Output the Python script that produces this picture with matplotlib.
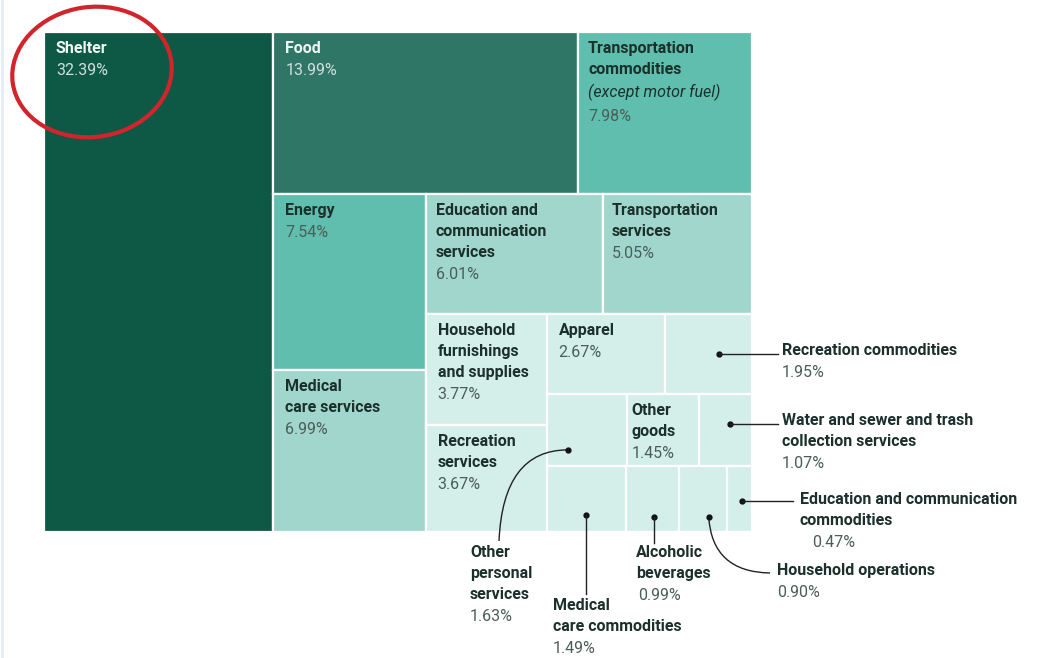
"""Treemap of CPI weights (slice-and-dice layout) with callouts."""

import matplotlib
matplotlib.use("Agg")
import matplotlib.pyplot as plt
from matplotlib.patches import Rectangle, Ellipse
from matplotlib.path import Path
from matplotlib.patches import PathPatch

plt.rcParams['font.family'] = ['Roboto', 'DejaVu Sans']

#
# Data.
#
names = [
    'Shelter', 'Food', 'Transportation\ncommodities', 'Energy',
    'Medical\ncare services', 'Education and\ncommunication\nservices',
    'Transportation\nservices', 'Household\nfurnishings\nand supplies',
    'Recreation\nservices', 'Apparel', 'Recreation commodities',
    'Other\npersonal\nservices', 'Other\ngoods',
    'Water and sewer and trash\ncollection services',
    'Medical\ncare commodities', 'Alcoholic\nbeverages',
    'Household operations', 'Education and communication\ncommodities',
]
weights = [32.39, 13.99, 7.98, 7.54, 6.99, 6.01, 5.05, 3.77, 3.67, 2.67,
           1.95, 1.63, 1.45, 1.07, 1.49, 0.99, 0.90, 0.47]
notes = {2: '(except motor fuel)'}

# strips of the slice-and-dice layout: item count and direction
strip_sizes = [1, 2, 2, 2, 2, 2, 3, 4]
strip_dirs = ['col', 'row', 'col', 'row', 'col', 'row', 'row', 'row']

cell_colors = ['#0e5846', '#2f7667', '#5fbead', '#5fbead', '#a1d6cc',
               '#a1d6cc', '#a1d6cc'] + ['#d4eee9'] * 11


def layout(values, sizes, dirs, box):
    x, y, w, h = box
    remaining = sum(values)
    rects = []
    k = 0
    for n, d in zip(sizes, dirs):
        grp = values[k:k + n]
        s = sum(grp)
        if d == 'col':
            sw = w * s / remaining
            yy = y
            for v in grp:
                hh = h * v / s
                rects.append((x, yy, sw, hh))
                yy += hh
            x += sw
            w -= sw
        else:
            sh = h * s / remaining
            xx = x
            for v in grp:
                ww = w * v / s
                rects.append((xx, y, ww, sh))
                xx += ww
            y += sh
            h -= sh
        remaining -= s
        k += n
    return rects


fig = plt.figure(figsize=(10.59, 6.58), dpi=100)
ax = fig.add_axes([0, 0, 1, 1])
ax.set_xlim(0, 1059)
ax.set_ylim(658, 0)
ax.axis('off')

rects = layout(weights, strip_sizes, strip_dirs, (44, 32, 708, 500))

for r, c in zip(rects, cell_colors):
    ax.add_patch(Rectangle((r[0], r[1]), r[2], r[3], facecolor=c,
                           edgecolor='white', linewidth=1.6))

fs = 11.5
line = 21
inside = [0, 1, 2, 3, 4, 5, 6, 7, 8, 9, 12]
pad = {12: 4, 2: 10, 5: 10, 6: 9}


def label(x, y, i, name_col, pct_col, pct_dx=0):
    yy = y
    for part in names[i].split('\n'):
        ax.text(x, yy, part, ha='left', va='top', fontsize=fs,
                fontweight='bold', color=name_col)
        yy += line
    yy += 1
    if i in notes:
        ax.text(x, yy, notes[i], ha='left', va='top', fontsize=fs,
                style='italic', color=name_col)
        yy += line + 4
    ax.text(x + pct_dx, yy, '{:.2f}%'.format(weights[i]), ha='left',
            va='top', fontsize=fs, color=pct_col)


for i in inside:
    x, y, w, h = rects[i]
    if i < 2:
        label(x + pad.get(i, 12), y + 9, i, '#eef5f3', '#cfe0db')
    else:
        label(x + pad.get(i, 12), y + 9, i, '#1c302b', '#4b5d58')


def dot(i, fx, fy):
    x, y, w, h = rects[i]
    px, py = x + w * fx, y + h * fy
    ax.plot(px, py, 'o', color='#111111', markersize=3.5)
    return px, py


def curve(p0, c, p1):
    path = Path([p0, c, p1], [Path.MOVETO, Path.CURVE3, Path.CURVE3])
    ax.add_patch(PathPatch(path, facecolor='none', edgecolor='#222222',
                           linewidth=1))


# Recreation commodities
px, py = dot(10, 0.62, 0.5)
ax.plot([px, 778], [py, py], color='#222222', lw=1)
label(782, py - 11, 10, '#1c302b', '#4b5d58')

# Water and sewer
px, py = dot(13, 0.58, 0.42)
ax.plot([px, 778], [py, py], color='#222222', lw=1)
label(782, py - 11, 13, '#1c302b', '#4b5d58')

# Education and communication commodities
px, py = dot(17, 0.6, 0.53)
ax.plot([px, 793], [py, py], color='#222222', lw=1)
label(800, py - 9, 17, '#1c302b', '#4b5d58', pct_dx=12)

# Household operations
px, py = dot(16, 0.62, 0.77)
curve((px, py), (712, 572), (770, 573))
label(777, 563, 16, '#1c302b', '#4b5d58')

# Alcoholic beverages
px, py = dot(15, 0.53, 0.77)
ax.plot([px, px], [py, 543], color='#222222', lw=1)
label(636, 545, 15, '#1c302b', '#4b5d58', pct_dx=2)

# Medical care commodities
px, py = dot(14, 0.5, 0.75)
ax.plot([px, px], [py, 594], color='#222222', lw=1)
label(553, 598, 14, '#1c302b', '#4b5d58')

# Other personal services
px, py = dot(11, 0.26, 0.78)
curve((px, py), (503, 450), (499, 541))
label(470, 545, 11, '#1c302b', '#4b5d58')

# red circle around Shelter
ax.add_patch(Ellipse((92, 72), 160, 130, angle=-8, facecolor='none',
                     edgecolor='#d0252a', linewidth=3))

# faint frame line on left edge
ax.plot([2, 2], [0, 658], color='#e4eef9', lw=2)

fig.savefig('out.png', dpi=100)
